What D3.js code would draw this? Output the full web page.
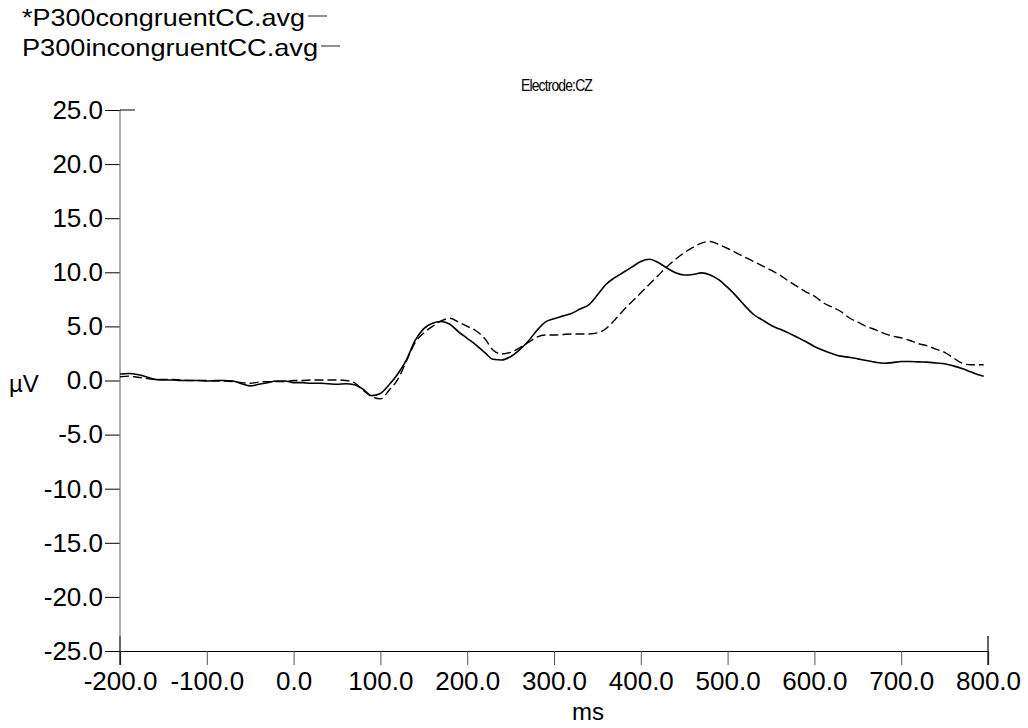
<!DOCTYPE html>
<html>
<head>
<meta charset="utf-8">
<script src="https://cdn.jsdelivr.net/npm/d3@7"></script>
<style>
html,body{margin:0;padding:0;background:#fff;}
svg{display:block;font-family:"Liberation Sans",Arial,sans-serif;}
</style>
</head>
<body>
<svg id="chart" width="1028" height="728"></svg>
<script>
// ---- data ----
const seriesNames = ["*P300congruentCC.avg", "P300incongruentCC.avg"];
const chartTitle = "Electrode:CZ";
const xLabel = "ms";
const yLabel = "µV";
const xTicks = [-200, -100, 0, 100, 200, 300, 400, 500, 600, 700, 800];
const yTicks = [25, 20, 15, 10, 5, 0, -5, -10, -15, -20, -25];
const timeMs = [-200,-190,-180,-170,-160,-150,-140,-130,-120,-110,-100,-90,-80,-70,-60,-50,-40,-30,-20,-10,
  0,10,20,30,40,50,60,70,80,90,100,110,120,130,140,150,160,170,180,190,
  200,210,220,230,240,250,260,270,280,290,300,310,320,330,340,350,360,370,380,390,
  400,410,420,430,440,450,460,470,480,490,500,510,520,530,540,550,560,570,580,590,
  600,610,620,630,640,650,660,670,680,690,700,710,720,730,740,750,760,770,780,790,795];
const congruent = [0.6,0.65,0.55,0.35,0.1,0.05,0.05,0.0,0.0,0.0,-0.05,0.0,0.0,-0.05,-0.3,-0.5,-0.35,-0.2,-0.05,-0.05,
  -0.2,-0.2,-0.25,-0.25,-0.3,-0.35,-0.3,-0.4,-0.8,-1.4,-1.2,-0.4,0.6,1.9,3.7,4.8,5.3,5.45,5.2,4.5,
  3.9,3.3,2.6,1.96,1.9,2.2,2.8,3.6,4.6,5.4,5.7,5.95,6.2,6.6,7.0,7.9,8.9,9.5,10.0,10.5,
  11.0,11.2,10.9,10.4,9.95,9.75,9.8,9.95,9.75,9.3,8.6,7.8,6.9,6.1,5.6,5.1,4.75,4.4,4.0,3.6,
  3.15,2.8,2.5,2.25,2.15,2.0,1.85,1.7,1.6,1.65,1.75,1.75,1.72,1.7,1.62,1.55,1.35,1.1,0.8,0.5,0.4];
const incongruent = [0.35,0.4,0.3,0.2,0.1,0.1,0.1,0.05,0.0,0.0,0.0,-0.05,-0.05,-0.1,-0.2,-0.25,-0.15,-0.1,-0.1,-0.1,
  0.0,0.0,0.05,0.05,0.05,0.05,0.0,-0.2,-0.9,-1.5,-1.7,-0.9,0.1,1.8,3.5,4.4,5.0,5.5,5.75,5.4,
  5.0,4.6,3.9,2.8,2.45,2.6,3.0,3.5,4.0,4.2,4.2,4.25,4.3,4.3,4.3,4.4,4.8,5.6,6.5,7.3,
  8.1,8.9,9.7,10.5,11.2,11.8,12.3,12.7,12.85,12.55,12.2,11.8,11.4,11.0,10.6,10.2,9.75,9.2,8.7,8.2,
  7.8,7.2,6.8,6.4,5.8,5.4,5.0,4.7,4.35,4.1,3.95,3.7,3.4,3.2,2.9,2.6,2.1,1.6,1.45,1.45,1.45];

// ---- layout ----
const svg = d3.select("#chart");
const x = d3.scaleLinear().domain([-200, 800]).range([120, 988]);
const y = d3.scaleLinear().domain([-25, 25]).range([651, 110]);
const fmt = d => d.toFixed(1);

// y axis
const yAxis = d3.axisLeft(y).tickValues(yTicks).tickFormat(fmt).tickSize(15).tickPadding(2);
const gy = svg.append("g").attr("transform", `translate(${x(-200)},0)`).call(yAxis);
gy.select(".domain").remove();
gy.selectAll(".tick line").attr("stroke", "#000");
gy.selectAll("text").attr("font-size", 26).attr("fill", "#000").attr("font-family", "Liberation Sans, Arial, sans-serif");
svg.append("line").attr("x1", x(-200)).attr("x2", x(-200)).attr("y1", y(25)).attr("y2", y(-25) - 15)
  .attr("stroke", "#777").attr("stroke-width", 1.2);
svg.append("line").attr("x1", x(-200)).attr("x2", x(-200) + 15).attr("y1", y(25)).attr("y2", y(25))
  .attr("stroke", "#000").attr("stroke-width", 1);

// x axis
const xAxis = d3.axisBottom(x).tickValues(xTicks).tickFormat(fmt).tickSize(14).tickPadding(7);
const gx = svg.append("g").attr("transform", `translate(0,${y(-25)})`).call(xAxis);
gx.select(".domain").attr("stroke", "#000").attr("stroke-width", 1.2);
gx.selectAll(".tick line").attr("stroke", "#555");
gx.selectAll("text").attr("font-size", 26).attr("fill", "#000").attr("font-family", "Liberation Sans, Arial, sans-serif");
[xTicks[0], xTicks[xTicks.length - 1]].forEach(v => {
  svg.append("line").attr("x1", x(v)).attr("x2", x(v)).attr("y1", y(-25) - 15).attr("y2", y(-25) + 14)
    .attr("stroke", "#000").attr("stroke-width", 1.2);
});

// labels
svg.append("text").attr("x", 588).attr("y", 720).attr("text-anchor", "middle")
  .attr("font-size", 24).text(xLabel);
svg.append("text").attr("x", 9).attr("y", 392).attr("font-size", 24).text(yLabel);
svg.append("text").attr("x", 521).attr("y", 91).attr("font-size", 16).attr("letter-spacing", -1)
  .attr("textLength", 71).attr("lengthAdjust", "spacingAndGlyphs").text(chartTitle);

// legend
const legendY = [26, 56];
const legendW = [283, 296];
seriesNames.forEach((name, i) => {
  svg.append("text").attr("x", 22).attr("y", legendY[i]).attr("font-size", 24)
    .attr("textLength", legendW[i]).attr("lengthAdjust", "spacingAndGlyphs").text(name);
  svg.append("line").attr("x1", 22 + legendW[i] + 3).attr("x2", 22 + legendW[i] + 22)
    .attr("y1", legendY[i] - 10).attr("y2", legendY[i] - 10).attr("stroke", "#555").attr("stroke-width", 1.3);
});

// lines
const line = d3.line().x((d, i) => x(timeMs[i])).y(d => y(d)).curve(d3.curveMonotoneX);
svg.append("path").datum(incongruent).attr("d", line).attr("fill", "none")
  .attr("stroke", "#000").attr("stroke-width", 1.4).attr("stroke-dasharray", "9,4");
svg.append("path").datum(congruent).attr("d", line).attr("fill", "none")
  .attr("stroke", "#000").attr("stroke-width", 1.6);
</script>
</body>
</html>
